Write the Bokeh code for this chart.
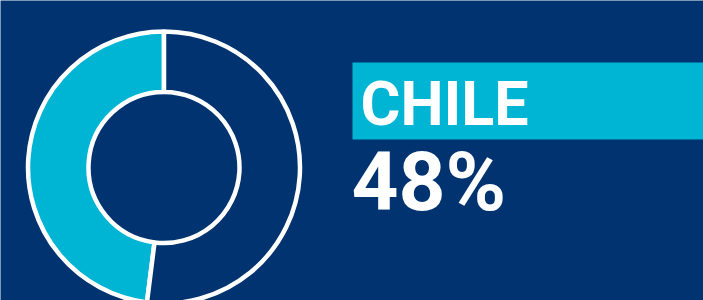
import numpy as np
from bokeh.plotting import figure
from bokeh.models import Range1d
from bokeh.core.properties import value
from bokeh.embed import file_html
from bokeh.resources import INLINE

# data
country = ["CHILE"]
share = [48, 52]          # percent: highlighted, rest
slice_colors = ["#00b5d3", "#00336f"]

BG = "#00336f"
CYAN = "#00b5d3"
FONT = "Roboto"

W, H = 703, 300
p = figure(width=W, height=H, output_backend="svg", toolbar_location=None,
           x_range=Range1d(0, W), y_range=Range1d(0, H),
           min_border=0, background_fill_color=BG, border_fill_color=BG,
           outline_line_color=None)
p.axis.visible = False
p.grid.visible = False

# donut
fr = np.array(share, dtype=float) / sum(share)
cum = np.concatenate([[0], np.cumsum(fr)])
start = np.pi / 2 + 2 * np.pi * cum[:-1]
end = np.pi / 2 + 2 * np.pi * cum[1:]
cx, cy = 163.5, 133
p.annular_wedge(x=[cx] * len(share), y=[cy] * len(share), inner_radius=75.5, outer_radius=136,
                start_angle=start, end_angle=end, fill_color=slice_colors,
                line_color="white", line_width=4.5)

# label bar
p.quad(left=[352], right=[760], bottom=[161], top=[238], fill_color=CYAN, line_color=None)
p.text(x=[360], y=[197], text=country, text_color="white",
       text_font=value(FONT), text_font_style="bold",
       text_font_size="61px", text_baseline="alphabetic")
p.text(x=[351], y=[119], text=[f"{share[0]}%"], text_color="white",
       text_font=value(FONT), text_font_style="bold",
       text_font_size="82px", text_baseline="alphabetic")

open("out.html", "w").write(file_html(p, INLINE))
